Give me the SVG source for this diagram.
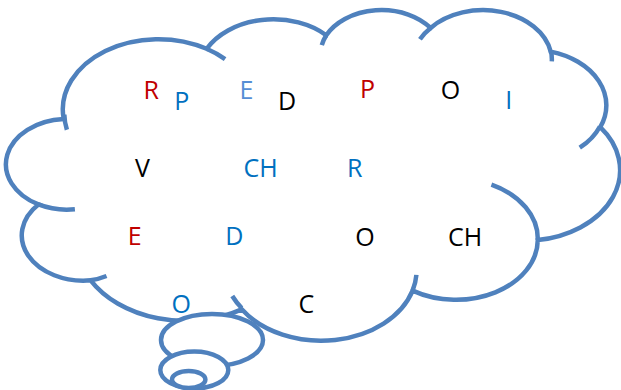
<svg xmlns="http://www.w3.org/2000/svg" width="621" height="390" viewBox="0 0 621 390">
<style>
.ol{fill:none;stroke:#4F81BD;stroke-width:4.5;stroke-linecap:butt}
.bub{fill:#fff;stroke:#4F81BD;stroke-width:4.5}
text{font-family:"Open Sans","Liberation Sans",sans-serif;font-size:25px;text-anchor:middle}
.r{fill:#C00000}.b{fill:#0070C0}.lb{fill:#558ED5}.k{fill:#000}
</style>
<rect width="621" height="390" fill="#fff"/>
<g id="cloud" transform="translate(8.5,9) scale(0.01415,0.00765)">
<path class="ol" vector-effect="non-scaling-stroke" style="fill:#fff" d="M3900 14370 A6753 9190 0 0 1 14006 5201 A5333 7267 0 0 1 22457 3431 A4365 5945 0 0 1 29833 2479 A4857 6595 0 0 1 38319 5572 A5333 7273 0 0 1 41820 15456 A6775 9220 0 0 1 37406 30200 A5785 7867 0 0 1 28557 36811 A6752 9215 0 0 1 16482 39263 A7720 10543 0 0 1 5805 35469 A4360 5918 0 0 1 2114 25547 A4345 5945 0 0 1 3900 14370 Z"/>
<path class="ol" vector-effect="non-scaling-stroke" d="M4693 26177 A4345 5945 0 0 1 2114 25547 M6928 34899 A4360 5918 0 0 1 5805 35469 M16478 39090 A6752 9215 0 0 1 15814 37523 M28827 34751 A6752 9215 0 0 1 28557 36811 M34129 22954 A5785 7867 0 0 1 37406 30200 M41798 15354 A5333 7273 0 0 1 40371 18133 M38324 5426 A4857 6595 0 0 1 38396 6837 M29078 3952 A4857 6595 0 0 1 29833 2479 M22141 4720 A4365 5945 0 0 1 22457 3431 M14000 5192 A6753 9190 0 0 1 15306 6550 M4127 15789 A6753 9190 0 0 1 3944 13799"/>
</g>
<g id="bubbles">
<ellipse class="bub" cx="212" cy="340" rx="51" ry="26"/>
<ellipse class="bub" cx="194.3" cy="370" rx="34" ry="18.5"/>
<ellipse class="bub" cx="188.7" cy="379.5" rx="16.7" ry="8.5"/>
</g>
<g id="letters">
<text class="r" x="151.3" y="99">R</text>
<text class="b" x="181.7" y="110">P</text>
<text class="lb" x="246.5" y="98.7">E</text>
<text class="k" x="287" y="110">D</text>
<text class="r" x="367.5" y="98.3">P</text>
<text class="k" x="450.5" y="98.7">O</text>
<text class="b" x="508.7" y="109">I</text>
<text class="k" x="142.5" y="176.7">V</text>
<text class="b" x="260.5" y="176.7">CH</text>
<text class="b" x="354.7" y="176.7">R</text>
<text class="r" x="134.7" y="245">E</text>
<text class="b" x="234.2" y="245">D</text>
<text class="k" x="365" y="245.5">O</text>
<text class="k" x="465" y="245.5">CH</text>
<text class="b" x="181.3" y="313">O</text>
<text class="k" x="306.3" y="312.5">C</text>
</g>
</svg>
